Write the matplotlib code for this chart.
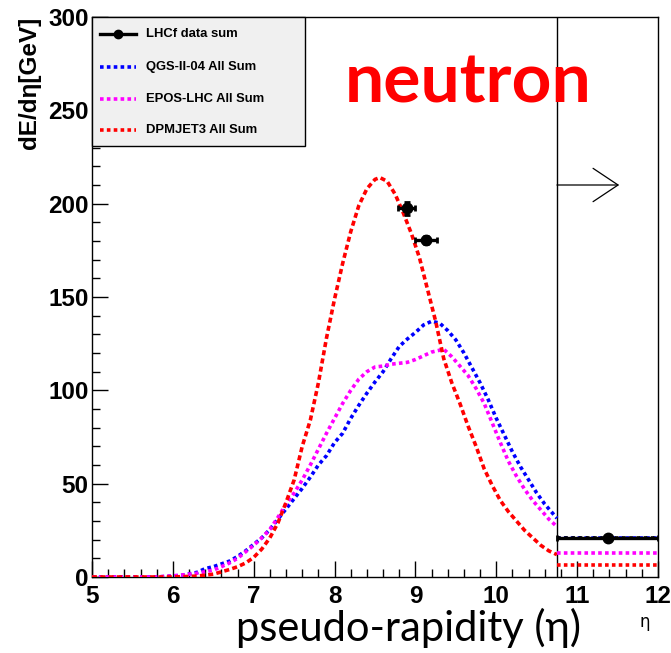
import matplotlib
matplotlib.use("Agg")
import matplotlib.pyplot as plt
from matplotlib.lines import Line2D
from matplotlib.patches import Rectangle
from matplotlib.ticker import MultipleLocator

# ---------------- data ----------------
dpm_eta = [5.0, 5.5, 6.0, 6.3, 6.5, 6.7, 6.8, 6.9, 7.0, 7.1, 7.2, 7.3, 7.4, 7.5, 7.6,
           7.7, 7.8, 7.9, 8.0, 8.1, 8.2, 8.3, 8.4, 8.5, 8.56, 8.65, 8.75, 8.85, 8.95,
           9.05, 9.15, 9.25, 9.35, 9.45, 9.55, 9.65, 9.75, 9.85, 9.95, 10.05, 10.15,
           10.25, 10.35, 10.45, 10.55, 10.65, 10.75]
dpm_val = [0, 0, 0, 0.5, 1.5, 4, 5.5, 7.5, 10.5, 15, 21, 29, 40, 52, 70,
           84, 104, 128, 149, 168, 185, 199, 208, 213, 214, 212, 205, 195, 184,
           171, 154, 137, 117, 104, 93, 81, 70, 58, 49, 41, 35,
           30, 25, 21, 17, 14, 12]

qgs_eta = [5.0, 5.8, 6.1, 6.3, 6.4, 6.5, 6.6, 6.7, 6.8, 6.9, 7.0, 7.1, 7.2, 7.3, 7.4,
           7.5, 7.6, 7.7, 7.8, 7.9, 8.0, 8.1, 8.2, 8.3, 8.4, 8.5, 8.6, 8.7, 8.8, 8.9,
           9.0, 9.1, 9.2, 9.3, 9.4, 9.5, 9.6, 9.7, 9.8, 9.9, 10.0, 10.1, 10.2, 10.3,
           10.4, 10.5, 10.6, 10.7, 10.75]
qgs_val = [0, 0, 0.8, 2.5, 4.5, 5.5, 7, 8.5, 11, 14, 17.5, 21, 25.5, 31, 36.5,
           42, 47.5, 53.5, 60, 65, 72, 77, 85, 92, 98.5, 104.5, 110, 117, 123.5, 127.5,
           131, 135, 137, 136, 132, 127, 120, 112, 104, 95, 85, 76, 67, 59,
           52, 45, 39, 34, 31.5]

epos_eta = [5.0, 5.8, 6.1, 6.3, 6.5, 6.6, 6.7, 6.8, 6.9, 7.0, 7.1, 7.2, 7.3, 7.4, 7.5,
            7.6, 7.7, 7.8, 7.9, 8.0, 8.1, 8.2, 8.3, 8.4, 8.5, 8.6, 8.7, 8.8, 8.9, 9.0,
            9.1, 9.2, 9.3, 9.35, 9.45, 9.55, 9.65, 9.75, 9.85, 9.95, 10.05, 10.15,
            10.25, 10.35, 10.45, 10.55, 10.65, 10.75]
epos_val = [0, 0, 1, 2, 3.7, 5.5, 7.5, 10, 13.5, 17, 21, 25.5, 32, 39, 45,
            52, 60, 68.5, 77, 85, 93, 100, 106, 110, 112.5, 113, 114, 114.5, 115, 116.5,
            118.5, 120.5, 121.5, 122, 118, 113, 108, 101, 93, 82.5, 72, 62,
            54, 47, 41, 36, 31, 27]

# last (integrated) bin  eta > 10.75
tail_edges = [10.75, 12.0]
qgs_tail = 21.0
epos_tail = 12.9
dpm_tail = 6.2

# LHCf data
data_eta = [8.89, 9.13, 11.38]
data_val = [197.5, 180.5, 21.0]
data_xlo = [8.78, 8.99, 10.75]
data_xhi = [9.00, 9.27, 12.0]
data_yerr = [3.5, 2.0, 0.8]

labels = ["LHCf data sum", "QGS-II-04 All Sum", "EPOS-LHC All Sum", "DPMJET3 All Sum"]
colors = ["black", "#0000ff", "#ff00ff", "#ff0000"]

# ---------------- figure ----------------
W, H = 671, 653
fig = plt.figure(figsize=(W / 100, H / 100), dpi=100)
L, R, B, T = 92, 658, 577, 17
ax = fig.add_axes([L / W, 1 - B / H, (R - L) / W, (B - T) / H])

ax.set_xlim(5, 12)
ax.set_ylim(0, 300)

dots = (0, (1.0, 0.9))
lw = 2.6
ax.plot(qgs_eta, qgs_val, color=colors[1], lw=lw, ls=dots, zorder=3)
ax.plot(epos_eta, epos_val, color=colors[2], lw=lw, ls=dots, zorder=3)
ax.plot(dpm_eta, dpm_val, color=colors[3], lw=lw, ls=(0, (1.4, 0.9)), zorder=3)
ax.plot(tail_edges, [epos_tail] * 2, color=colors[2], lw=lw, ls=dots, zorder=3)
ax.plot(tail_edges, [dpm_tail] * 2, color=colors[3], lw=lw, ls=dots, zorder=3)
ax.plot(tail_edges, [qgs_tail] * 2, color=colors[1], lw=lw, ls=dots, zorder=3)

xerr = [[c - lo for c, lo in zip(data_eta, data_xlo)],
        [hi - c for c, hi in zip(data_eta, data_xhi)]]
ax.errorbar(data_eta, data_val, xerr=xerr, yerr=data_yerr, fmt='o', color='black',
            ms=7.5, lw=2.4, capsize=2.5, capthick=2.0, zorder=5)
# dotted black on the last bin (overlaid as in the reference)
ax.plot(tail_edges, [data_val[2]] * 2, color='black', lw=2.6, ls=(0, (1.0, 1.0)), zorder=4)

# vertical divider and arrow
ax.axvline(10.75, color='black', lw=1.0, zorder=2)
ax.annotate("", xy=(11.52, 210), xytext=(10.75, 210),
            arrowprops=dict(arrowstyle="->,head_length=0.45,head_width=0.3",
                            color='black', lw=0.9, mutation_scale=40,
                            shrinkA=0, shrinkB=0))

# axes styling (ROOT-like)
font = "Liberation Sans"
narrow = ["Liberation Sans Narrow", "Liberation Sans"]
for s in ax.spines.values():
    s.set_linewidth(1.0)
ax.xaxis.set_major_locator(MultipleLocator(1))
ax.xaxis.set_minor_locator(MultipleLocator(0.2))
ax.yaxis.set_major_locator(MultipleLocator(50))
ax.yaxis.set_minor_locator(MultipleLocator(10))
ax.tick_params(which='both', direction='in', top=False, right=False, width=1.0)
ax.tick_params(which='major', length=11.5)
ax.tick_params(which='minor', length=5.8)
ax.tick_params(axis='x', which='major', pad=6)
ax.tick_params(axis='y', which='major', pad=2.5)
for lab in ax.get_xticklabels() + ax.get_yticklabels():
    lab.set_fontfamily(narrow)
    lab.set_fontweight('bold')
    lab.set_fontsize(17.5)

ax.set_ylabel("dE/dη[GeV]", fontfamily=narrow, fontweight='bold', fontsize=17.5,
              loc='top', labelpad=5)

# legend (ROOT TLegend style)
lx0, ly0, lx1, ly1 = 92, 17, 305, 146
tr = ax.transAxes.inverted()
def ax_xy(px, py):
    # figure pixel (top-left origin) -> axes fraction
    return tr.transform(fig.transFigure.transform((px / W, 1 - py / H)))
p0 = ax_xy(lx0, ly1)
p1 = ax_xy(lx1, ly0)
ax.add_patch(Rectangle(p0, p1[0] - p0[0], p1[1] - p0[1], transform=ax.transAxes,
                       facecolor="#f0f0f0", edgecolor="black", lw=1.0, zorder=10,
                       clip_on=False))
rows = [34, 67, 99, 130]
for i, (lab, col) in enumerate(zip(labels, colors)):
    a = ax_xy(100, rows[i])
    b = ax_xy(136, rows[i])
    if i == 0:
        ax.add_line(Line2D([a[0], b[0]], [a[1], b[1]], color='black', lw=2.4,
                           transform=ax.transAxes, zorder=11, clip_on=False))
        ax.add_line(Line2D([(a[0] + b[0]) / 2], [a[1]], marker='o', ms=6, color='black',
                           transform=ax.transAxes, zorder=12, clip_on=False))
    else:
        ax.add_line(Line2D([a[0], b[0]], [a[1], b[1]], color=col, lw=2.6, ls=dots,
                           transform=ax.transAxes, zorder=11, clip_on=False))
    t = ax_xy(146, rows[i])
    ax.text(t[0], t[1], lab, transform=ax.transAxes, fontfamily=font,
            fontweight='bold', fontsize=9.4, va='center', ha='left', zorder=12)

# annotations
fig.text(468 / W, 1 - 83 / H, "neutron", color="#ff0000", fontfamily="Lato",
         fontweight='bold', fontsize=50, ha='center', va='center')
fig.text(409 / W, 1 - 628 / H, "pseudo-rapidity (η)", color="black",
         fontfamily="Lato", fontsize=30, ha='center', va='center')
fig.text(645 / W, 1 - 622 / H, "η", color="black", fontfamily="DejaVu Sans",
         fontsize=12, ha='center', va='center')

fig.savefig("out.png", dpi=100)
